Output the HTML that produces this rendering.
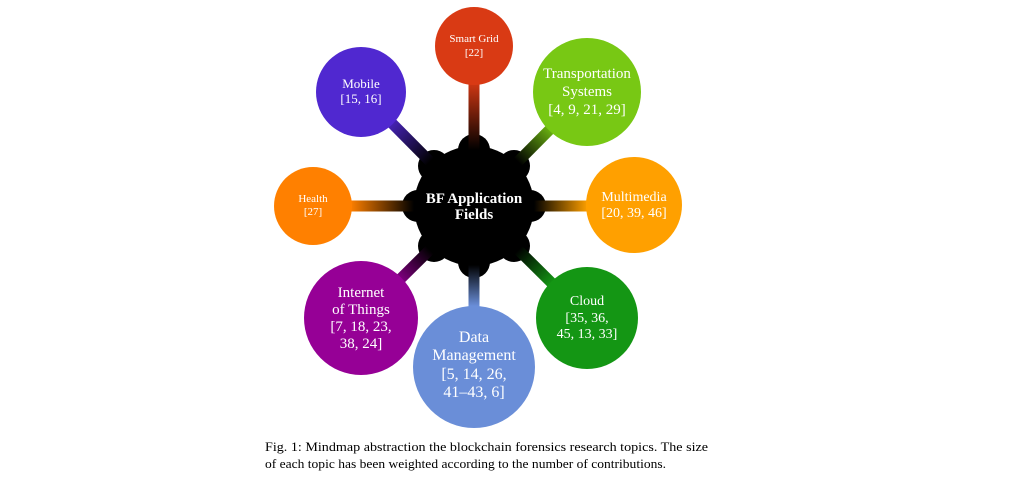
<!DOCTYPE html>
<html><head><meta charset="utf-8"><style>
html,body{margin:0;padding:0;background:#fff;width:1024px;height:488px;overflow:hidden}
svg{display:block}
text{font-family:"Liberation Serif",serif;fill:#fff;text-anchor:middle}
</style></head><body>
<svg width="1024" height="488" viewBox="0 0 1024 488">
<defs>
<linearGradient id="g1" gradientUnits="userSpaceOnUse" x1="474" y1="150" x2="474" y2="80"><stop offset="0" stop-color="#000"/><stop offset="1" stop-color="#d93a14"/></linearGradient>
<linearGradient id="g2" gradientUnits="userSpaceOnUse" x1="430" y1="162" x2="385" y2="118"><stop offset="0" stop-color="#000"/><stop offset="1" stop-color="#5028d0"/></linearGradient>
<linearGradient id="g3" gradientUnits="userSpaceOnUse" x1="518" y1="162" x2="555" y2="125"><stop offset="0" stop-color="#000"/><stop offset="1" stop-color="#78c814"/></linearGradient>
<linearGradient id="g4" gradientUnits="userSpaceOnUse" x1="414" y1="206" x2="350" y2="206"><stop offset="0" stop-color="#000"/><stop offset="1" stop-color="#ff8000"/></linearGradient>
<linearGradient id="g5" gradientUnits="userSpaceOnUse" x1="534" y1="206" x2="588" y2="206"><stop offset="0" stop-color="#000"/><stop offset="1" stop-color="#ffa000"/></linearGradient>
<linearGradient id="g6" gradientUnits="userSpaceOnUse" x1="430" y1="250" x2="395" y2="285"><stop offset="0" stop-color="#000"/><stop offset="1" stop-color="#960096"/></linearGradient>
<linearGradient id="g7" gradientUnits="userSpaceOnUse" x1="474" y1="265" x2="474" y2="306"><stop offset="0" stop-color="#000"/><stop offset="1" stop-color="#6a8ed8"/></linearGradient>
<linearGradient id="g8" gradientUnits="userSpaceOnUse" x1="518" y1="250" x2="552" y2="284"><stop offset="0" stop-color="#000"/><stop offset="1" stop-color="#149614"/></linearGradient>
</defs>
<circle cx="474" cy="206" r="60" fill="#000"/>
<g fill="#000">
<circle cx="474" cy="150" r="16"/><circle cx="474" cy="262" r="16"/>
<circle cx="418" cy="206" r="16"/><circle cx="530" cy="206" r="16"/>
<circle cx="434" cy="166" r="16"/><circle cx="514" cy="166" r="16"/>
<circle cx="434" cy="246" r="16"/><circle cx="514" cy="246" r="16"/>
</g>
<g stroke-width="11" stroke-linecap="butt">
<line x1="474" y1="206" x2="474" y2="60" stroke="url(#g1)"/>
<line x1="474" y1="206" x2="361" y2="92" stroke="url(#g2)"/>
<line x1="474" y1="206" x2="587" y2="92" stroke="url(#g3)"/>
<line x1="474" y1="206" x2="313" y2="206" stroke="url(#g4)"/>
<line x1="474" y1="206" x2="634" y2="206" stroke="url(#g5)"/>
<line x1="474" y1="206" x2="361" y2="318" stroke="url(#g6)"/>
<line x1="474" y1="206" x2="474" y2="367" stroke="url(#g7)"/>
<line x1="474" y1="206" x2="587" y2="318" stroke="url(#g8)"/>
</g>
<circle cx="474" cy="46" r="39" fill="#d93a14"/>
<circle cx="361" cy="92" r="45" fill="#5028d0"/>
<circle cx="587" cy="92" r="54" fill="#78c814"/>
<circle cx="313" cy="206" r="39" fill="#ff8000"/>
<circle cx="634" cy="205" r="48" fill="#ffa000"/>
<circle cx="361" cy="318" r="57" fill="#960096"/>
<circle cx="474" cy="367" r="61" fill="#6a8ed8"/>
<circle cx="587" cy="318" r="51" fill="#149614"/>

<text x="474" y="203" font-size="15" font-weight="bold">BF Application</text>
<text x="474" y="219" font-size="15" font-weight="bold">Fields</text>
<text x="474" y="42" font-size="11">Smart Grid</text>
<text x="474" y="56" font-size="11">[22]</text>
<text x="361" y="88" font-size="13">Mobile</text>
<text x="361" y="103" font-size="13">[15, 16]</text>
<text x="587" y="78" font-size="15">Transportation</text>
<text x="587" y="96" font-size="15">Systems</text>
<text x="587" y="114" font-size="15">[4, 9, 21, 29]</text>
<text x="313" y="202" font-size="11">Health</text>
<text x="313" y="215" font-size="11">[27]</text>
<text x="634" y="201" font-size="14">Multimedia</text>
<text x="634" y="217" font-size="14">[20, 39, 46]</text>
<text x="361" y="297" font-size="15">Internet</text>
<text x="361" y="314" font-size="15">of Things</text>
<text x="361" y="331" font-size="15">[7, 18, 23,</text>
<text x="361" y="348" font-size="15">38, 24]</text>
<text x="474" y="342" font-size="16">Data</text>
<text x="474" y="360" font-size="16">Management</text>
<text x="474" y="379" font-size="16">[5, 14, 26,</text>
<text x="474" y="397" font-size="16">41–43, 6]</text>
<text x="587" y="305" font-size="14">Cloud</text>
<text x="587" y="322" font-size="14">[35, 36,</text>
<text x="587" y="338" font-size="14">45, 13, 33]</text>

<text x="265" y="451" font-size="13" textLength="443" lengthAdjust="spacingAndGlyphs" style="fill:#000;text-anchor:start">Fig. 1: Mindmap abstraction the blockchain forensics research topics. The size</text>
<text x="265" y="468" font-size="13" textLength="401" lengthAdjust="spacingAndGlyphs" style="fill:#000;text-anchor:start">of each topic has been weighted according to the number of contributions.</text>
</svg>
</body></html>
